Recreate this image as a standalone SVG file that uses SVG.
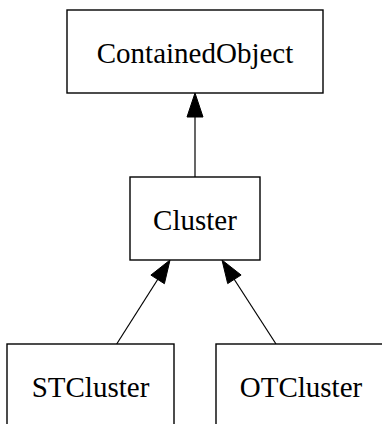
<svg xmlns="http://www.w3.org/2000/svg" width="382" height="424" viewBox="0 0 382 424">
<style>
.box{fill:#fff;stroke:#000;stroke-width:1.4}
.lbl{font-family:"Liberation Serif","Times New Roman",serif;font-size:29px;fill:#000;text-anchor:middle}
.edge{stroke:#000;stroke-width:1.2;fill:none}
.head{fill:#000;stroke:#000;stroke-width:1}
</style>
<rect width="382" height="424" fill="#fff"/>
<g id="edges">
<line class="edge" x1="195" y1="177" x2="195" y2="116"/>
<polygon class="head" points="195,93 187,117 203,117"/>
<line class="edge" x1="116.7" y1="344" x2="158" y2="279"/>
<polygon class="head" points="170,260 150.9,275.1 164.4,283.7"/>
<line class="edge" x1="276" y1="344" x2="234" y2="279"/>
<polygon class="head" points="222,260 241.1,275 227.7,283.6"/>
</g>
<g id="ContainedObject">
<rect class="box" x="67" y="10" width="256" height="83"/>
<text class="lbl" x="195" y="63">ContainedObject</text>
</g>
<g id="Cluster">
<rect class="box" x="130" y="177" width="130" height="83"/>
<text class="lbl" x="195" y="230">Cluster</text>
</g>
<g id="STCluster">
<rect class="box" x="7" y="344" width="167" height="83"/>
<text class="lbl" x="90.5" y="397">STCluster</text>
</g>
<g id="OTCluster">
<rect class="box" x="216" y="344" width="170" height="83"/>
<text class="lbl" x="301" y="397">OTCluster</text>
</g>
</svg>
